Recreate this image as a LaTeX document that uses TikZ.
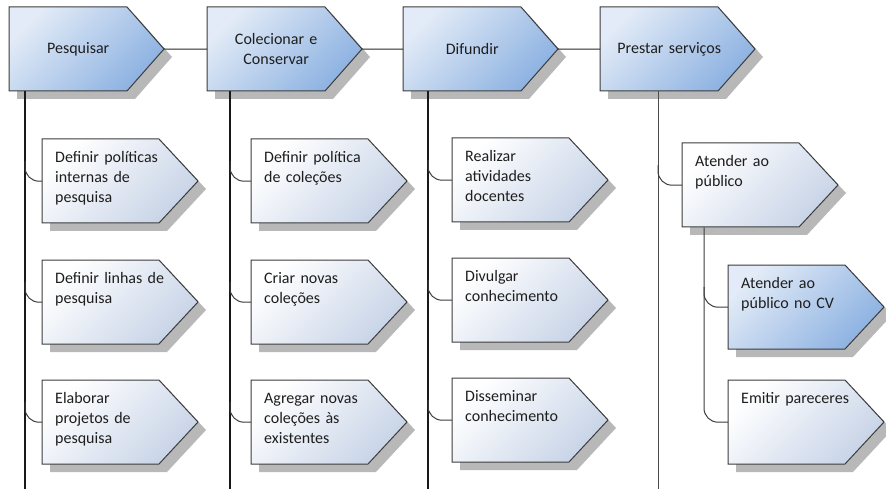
\documentclass[tikz,border=0pt]{standalone}
\usepackage{fontspec}
\setmainfont{Carlito}
\usetikzlibrary{calc,shadows,positioning}

\definecolor{boxline}{HTML}{3C3C3C}
\definecolor{toplight}{HTML}{E2EBF7}
\definecolor{topdark}{HTML}{8CB1E1}
\definecolor{subdark}{HTML}{C7D3E7}
\definecolor{txt}{HTML}{1E1E1E}

\tikzset{
  outline/.style={draw=boxline, line width=1pt,
    drop shadow={shadow xshift=8pt, shadow yshift=-8pt, fill=black!28, opacity=1}},
  topshade/.style={outline, top color=toplight, bottom color=topdark, shading angle=45},
  subshade/.style={outline, top color=white, bottom color=subdark, shading angle=45},
  toptext/.style={minimum width=138pt, text width=112pt, align=center, minimum height=84pt,
    inner sep=0pt, font=\fontsize{16}{20}\selectfont, text=txt},
  subtext/.style={text width=118pt, align=left, inner xsep=13pt, inner ysep=12pt,
    text height=11pt, text depth=49pt, font=\fontsize{16}{20}\selectfont, text=txt},
  trunk/.style={line width=1.6pt, draw=black!90},
  thintrunk/.style={line width=1pt, draw=black!70},
  branch/.style={line width=1pt, draw=boxline, rounded corners=14pt},
  conn/.style={line width=1pt, draw=black!85},
}

% top process box: name, left, top, text
\newcommand\procbox[4]{%
  \path[topshade] (#2,#3) -- ++(118,0) -- ++(37,42) -- ++(-37,42) -- ++(-118,0) -- cycle;
  \node[toptext, anchor=north west] (#1) at (#2,#3) {#4};
  \coordinate (#1-tip) at (#2+155,#3+42);
}
% activity box: name, left, top, fill style, text
\newcommand\actbox[5]{%
  \path[#4] (#2,#3) -- ++(117,0) -- ++(39,42) -- ++(-39,42) -- ++(-117,0) -- cycle;
  \node[subtext, anchor=north west] (#1) at (#2,#3) {#5};
}

\begin{document}
\begin{tikzpicture}[x=1pt,y=-1pt]
  \useasboundingbox (0,0) rectangle (886,489);

  % macro processes
  \procbox{pesq}{9}{7}{Pesquisar}
  \procbox{colec}{207}{7}{Colecionar e\\Conservar}
  \procbox{difun}{403}{7}{Difundir}
  \procbox{prest}{600}{7}{Prestar servi\c{c}os}

  % activities
  \actbox{polint}{42}{139}{subshade}{Definir pol\'{\i}ticas\\internas de\\pesquisa}
  \actbox{linhas}{42}{260}{subshade}{Definir linhas de\\pesquisa}
  \actbox{projet}{42}{380}{subshade}{Elaborar\\projetos de\\pesquisa}

  \actbox{polcol}{251}{139}{subshade}{Definir pol\'{\i}tica\\de cole\c{c}\~oes}
  \actbox{novas}{251}{260}{subshade}{Criar novas\\cole\c{c}\~oes}
  \actbox{agreg}{251}{380}{subshade}{Agregar novas\\cole\c{c}\~oes \`as\\existentes}

  \actbox{docent}{452}{138}{subshade}{Realizar\\atividades\\docentes}
  \actbox{divulg}{452}{258}{subshade}{Divulgar\\conhecimento}
  \actbox{dissem}{452}{378}{subshade}{Disseminar\\conhecimento}

  \actbox{atend}{682}{143}{subshade}{Atender ao\\p\'ublico}
  \actbox{atendcv}{728}{265}{topshade}{Atender ao\\p\'ublico no CV}
  \actbox{emitir}{728}{380}{subshade}{Emitir pareceres}

  % connectors
  \draw[conn] (pesq-tip) -- (colec.west);
  \draw[conn] (colec-tip) -- (difun.west);
  \draw[conn] (difun-tip) -- (prest.west);

  \coordinate (t1) at (25,489);
  \coordinate (t2) at (230,489);
  \coordinate (t3) at (428,489);
  \coordinate (t4) at (658,489);
  \coordinate (t5) at (704,489);

  \draw[trunk] (t1 |- pesq.south) -- (t1);
  \draw[trunk] (t2 |- colec.south) -- (t2);
  \draw[trunk] (t3 |- difun.south) -- (t3);
  \draw[thintrunk] (t4 |- prest.south) -- (t4);

  \foreach \t/\b in {t1/polint,t1/linhas,t1/projet,t2/polcol,t2/novas,t2/agreg,
                     t3/docent,t3/divulg,t3/dissem,t4/atend,t5/atendcv}
    \draw[branch] ($(\t |- \b.west)+(0,-20)$) |- (\b.west);
  \draw[branch] (t5 |- atend.south) |- (emitir.west);
\end{tikzpicture}
\end{document}
